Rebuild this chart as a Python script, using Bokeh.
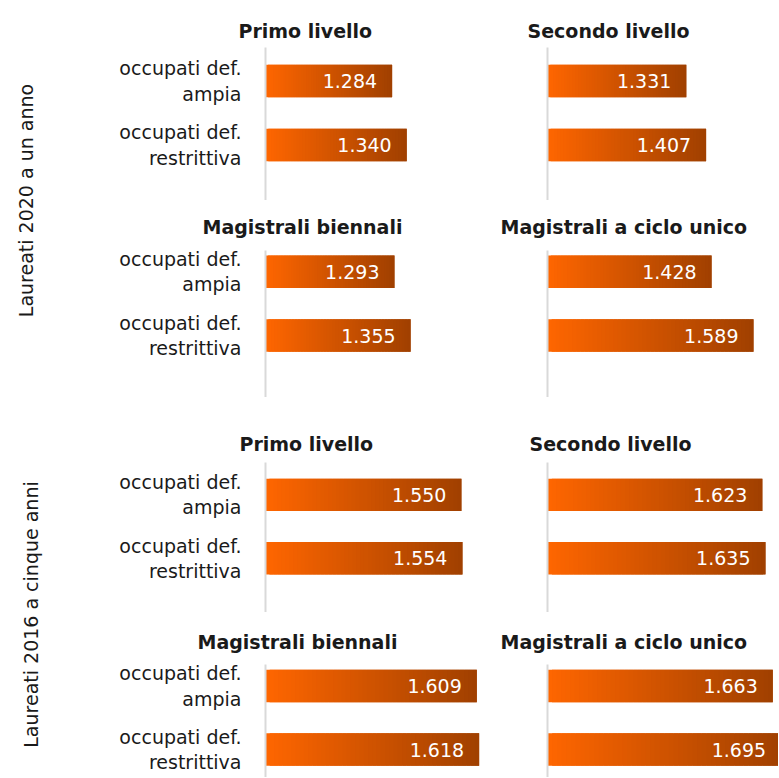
import numpy as np
from bokeh.plotting import figure
from bokeh.models import Range1d, FixedTicker
from bokeh.layouts import row, column
from bokeh.embed import file_html
from bokeh.resources import INLINE
from bokeh.core.properties import value

# ---------------- data ----------------
categories = ["occupati def.\nampia", "occupati def.\nrestrittiva"]
group_labels = ["Laureati 2020 a un anno", "Laureati 2016 a cinque anni"]

titles_row1 = ["Primo livello", "Secondo livello"]
titles_row2 = ["Magistrali biennali", "Magistrali a ciclo unico"]
titles_row3 = ["Primo livello", "Secondo livello"]
titles_row4 = ["Magistrali biennali", "Magistrali a ciclo unico"]

v2020_primo = [1284, 1340]
v2020_secondo = [1331, 1407]
v2020_mag_bien = [1293, 1355]
v2020_ciclo_unico = [1428, 1589]
v2016_primo = [1550, 1554]
v2016_secondo = [1623, 1635]
v2016_mag_bien = [1609, 1618]
v2016_ciclo_unico = [1663, 1695]

# ---------------- style ----------------
FONT = "DejaVu Sans"
TXT = "#1a1a1a"
C_START = np.array([255, 102, 0])
C_END = np.array([160, 64, 0])
N_SLICES = 50
X0 = 798


def fmt(v):
    return f"{v:,}".replace(",", ".")


def make_panel(vals, title, left_col, fig_h, border_top, y_bottom, y_top, t_offset, t_standoff):
    width = 452 if left_col else 278
    border_left = 217 if left_col else 47
    x_end = 1700 if left_col else 1685
    p = figure(width=width, height=fig_h, output_backend="svg", toolbar_location=None,
               x_range=Range1d(X0, x_end), y_range=Range1d(y_bottom, y_top),
               x_axis_location=None,
               min_border_left=border_left, min_border_right=0,
               min_border_top=border_top, min_border_bottom=0)
    p.outline_line_color = None
    p.grid.visible = False
    p.background_fill_color = "white"
    p.border_fill_color = "white"

    p.title.text = title
    p.title.align = "left"
    p.title.offset = t_offset
    p.title.standoff = t_standoff
    p.title.text_font = FONT
    p.title.text_font_size = "19px"
    p.title.text_font_style = "bold"
    p.title.text_color = TXT

    # gradient bars: slices that overlap only their next neighbour
    ys, lefts, rights, colors = [], [], [], []
    for k in range(N_SLICES):
        t = (k + 0.5) / N_SLICES
        c = C_START + (C_END - C_START) * t
        col = "#%02x%02x%02x" % tuple(int(round(x)) for x in c)
        for i, v in enumerate(vals):
            ys.append(i)
            lefts.append(X0 + (v - X0) * k / N_SLICES)
            rights.append(X0 + (v - X0) * min(k + 2, N_SLICES) / N_SLICES)
            colors.append(col)
    p.hbar(y=ys, left=lefts, right=rights, height=0.51,
           fill_color=colors, line_color=None)

    p.text(x=vals, y=list(range(len(vals))), text=[fmt(v) for v in vals],
           text_align="right", text_baseline="middle", x_offset=-15,
           text_color="white", text_font=value(FONT), text_font_size="19px")

    ax = p.yaxis[0]
    ax.ticker = FixedTicker(ticks=[0, 1])
    if left_col:
        ax.major_label_overrides = {0: categories[0], 1: categories[1]}
    else:
        ax.major_label_overrides = {0: "", 1: ""}
    ax.axis_line_color = "#d9d9d9"
    ax.axis_line_width = 2
    ax.major_tick_line_color = None
    ax.minor_tick_line_color = None
    ax.major_tick_out = 0
    ax.major_tick_in = 0
    ax.major_label_standoff = 24
    ax.major_label_text_font = FONT
    ax.major_label_text_font_size = "19px"
    ax.major_label_text_color = TXT
    ax.major_label_text_line_height = 1.15
    return p


rows_spec = [
    # values L, values R, titles, fig_h, border_top, y_bottom, y_top, offsets (L, R), standoff
    (v2020_primo, v2020_secondo, titles_row1, 200, 47, 1.871, -0.526, (-27, -20), 12),
    (v2020_mag_bien, v2020_ciclo_unico, titles_row2, 197, 50, 1.973, -0.334, (-63, -47), 26),
    (v2016_primo, v2016_secondo, titles_row3, 215, 65, 1.856, -0.510, (-26, -18), 16),
    (v2016_mag_bien, v2016_ciclo_unico, titles_row4, 165, 52, 1.44, -0.3375, (-68, -47), 24),
]

panel_rows = []
for vl, vr, tt, fh, bt, yb, yt, offs, so in rows_spec:
    pl = make_panel(vl, tt[0], True, fh, bt, yb, yt, offs[0], so)
    pr = make_panel(vr, tt[1], False, fh, bt, yb, yt, offs[1], so)
    panel_rows.append(row(pl, pr))

# group labels column
g = figure(width=48, height=777, output_backend="svg", toolbar_location=None,
           x_range=Range1d(0, 48), y_range=Range1d(777, 0),
           x_axis_location=None, y_axis_location=None, title_location=None,
           min_border=0)
g.outline_line_color = None
g.grid.visible = False
g.text(x=[25, 30], y=[200, 614], text=group_labels, angle=np.pi / 2,
       text_align="center", text_baseline="middle", text_color=TXT,
       text_font=value(FONT), text_font_size="19px")

layout = row(g, column(*panel_rows))

with open("out.html", "w") as f:
    f.write(file_html(layout, INLINE))
